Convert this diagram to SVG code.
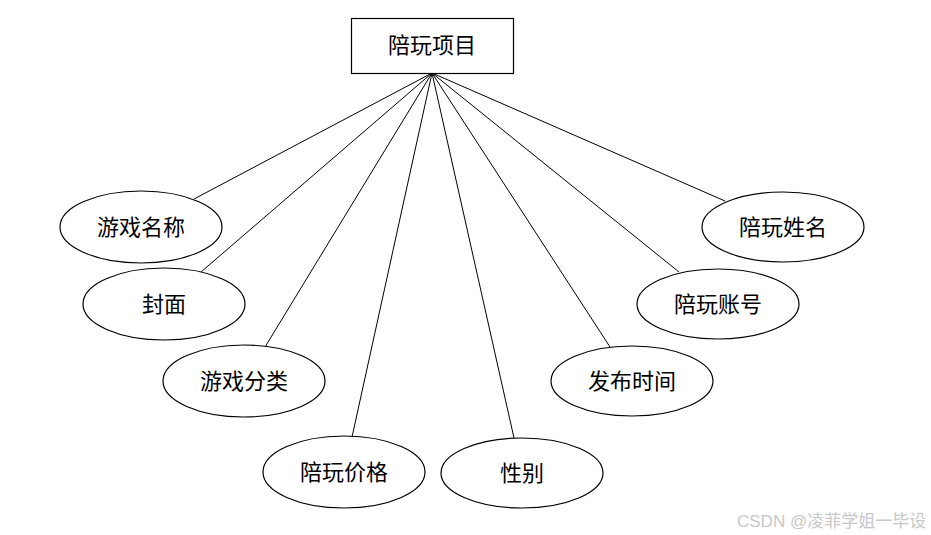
<svg xmlns="http://www.w3.org/2000/svg" width="931" height="535" viewBox="0 0 931 535">
<style>
.shape{fill:#fff;stroke:#000;stroke-width:1.2}
.lbl{font-family:"Liberation Serif","Noto Sans CJK SC",serif;font-size:22px;fill:#000;text-anchor:middle}
.conn line{stroke:#000;stroke-width:1}
.wm{font-family:"Liberation Sans","Noto Sans CJK SC",sans-serif;font-size:17px;fill:#c8c8c8}
</style>
<rect width="931" height="535" fill="#fff"/>
<g id="connectors" class="conn">
<line x1="432" y1="73" x2="194" y2="199"/>
<line x1="432" y1="73" x2="201" y2="272"/>
<line x1="432" y1="73" x2="265" y2="347"/>
<line x1="432" y1="73" x2="352" y2="437"/>
<line x1="432" y1="73" x2="514" y2="438"/>
<line x1="432" y1="73" x2="610" y2="347"/>
<line x1="432" y1="73" x2="679" y2="272"/>
<line x1="432" y1="73" x2="725" y2="201"/>
</g>
<g id="entity">
<rect class="shape" x="351.5" y="18.5" width="162" height="55"/>
<text class="lbl" x="432" y="53">陪玩项目</text>
</g>
<g id="attr-name">
<ellipse class="shape" cx="141" cy="227" rx="81" ry="36"/>
<text class="lbl" x="141" y="235">游戏名称</text>
</g>
<g id="attr-cover">
<ellipse class="shape" cx="164" cy="304" rx="81" ry="36"/>
<text class="lbl" x="164" y="312">封面</text>
</g>
<g id="attr-category">
<ellipse class="shape" cx="244" cy="381" rx="81" ry="36"/>
<text class="lbl" x="244" y="389">游戏分类</text>
</g>
<g id="attr-price">
<ellipse class="shape" cx="344" cy="472" rx="81" ry="36"/>
<text class="lbl" x="344" y="480">陪玩价格</text>
</g>
<g id="attr-gender">
<ellipse class="shape" cx="522" cy="473" rx="81" ry="35"/>
<text class="lbl" x="522" y="481">性别</text>
</g>
<g id="attr-time">
<ellipse class="shape" cx="632" cy="381" rx="81" ry="35"/>
<text class="lbl" x="632" y="389">发布时间</text>
</g>
<g id="attr-account">
<ellipse class="shape" cx="718" cy="304" rx="81" ry="35"/>
<text class="lbl" x="718" y="312">陪玩账号</text>
</g>
<g id="attr-player">
<ellipse class="shape" cx="783" cy="227" rx="81" ry="35"/>
<text class="lbl" x="783" y="235">陪玩姓名</text>
</g>
<text class="wm" x="737" y="527">CSDN @凌菲学姐一毕设</text>
</svg>
